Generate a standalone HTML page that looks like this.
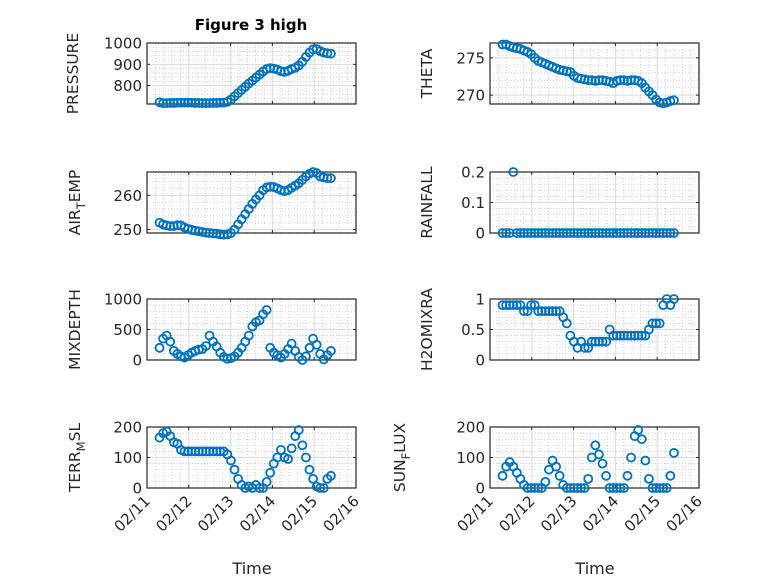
<!DOCTYPE html>
<html><head><meta charset="utf-8"><style>
html,body{margin:0;padding:0;background:#fff;}
svg{display:block;font-family:"DejaVu Sans","Liberation Sans",sans-serif;}
</style></head><body>
<svg id="fig" width="778" height="583" viewBox="0 0 778 583">
<rect width="778" height="583" fill="#fff"/>
<text x="251" y="30" text-anchor="middle" font-size="15" font-weight="bold" fill="#000">Figure 3 high</text>
</svg>
<script>
// x ticks (days since 02/11)
const xTickLabels = ["02/11","02/12","02/13","02/14","02/15","02/16"];
const tStart = 0.3, tEnd = 4.4, nPts = 49;
const pressure = [722,718,718,719,719,720,720,720,720,720,719,719,718,718,718,719,719,720,720,724,735,750,765,780,795,810,824,838,852,866,878,882,880,875,868,865,870,878,884,895,912,935,955,970,972,962,955,952,950];
const theta = [276.8,276.8,276.6,276.4,276.3,276.2,276.0,275.8,275.5,275.0,274.6,274.4,274.2,274.0,273.8,273.6,273.4,273.3,273.2,273.1,272.6,272.3,272.2,272.1,272.0,272.0,271.9,272.0,272.0,271.9,271.8,271.6,271.9,272.0,272.0,271.9,272.0,272.0,271.9,271.6,271.0,270.5,270.0,269.4,269.0,268.9,269.0,269.2,269.3];
const airTemp = [252,251.5,251.2,251,251,251.3,251.2,250.6,250.2,249.9,249.7,249.5,249.3,249.1,249,248.9,248.8,248.6,248.5,248.6,249,250,251.5,253,254.5,256,257.5,258.8,260,261.5,262.3,262.5,262.4,262,261.5,261.2,261.5,262.2,262.8,263.5,264.5,265.5,266.3,266.8,266.5,265.5,265.2,265,265];
const rainfall = [0,0,0,0.2,0,0,0,0,0,0,0,0,0,0,0,0,0,0,0,0,0,0,0,0,0,0,0,0,0,0,0,0,0,0,0,0,0,0,0,0,0,0,0,0,0,0,0,0,0];
const mixDepth = [200,350,400,300,150,100,60,40,80,120,150,170,180,230,400,300,220,120,50,20,30,60,120,200,300,400,550,620,650,750,820,200,120,80,40,100,180,270,150,50,0,60,200,350,250,100,10,80,150];
const h2oMix = [0.9,0.9,0.9,0.9,0.9,0.9,0.8,0.8,0.9,0.9,0.8,0.8,0.8,0.8,0.8,0.8,0.8,0.7,0.6,0.4,0.3,0.2,0.3,0.2,0.2,0.3,0.3,0.3,0.3,0.3,0.5,0.4,0.4,0.4,0.4,0.4,0.4,0.4,0.4,0.4,0.4,0.5,0.6,0.6,0.6,0.9,1.0,0.9,1.0];
const terrMsl = [165,180,185,170,150,145,125,120,120,120,120,120,120,120,120,120,120,120,120,110,90,60,30,10,0,5,0,10,0,0,20,50,80,100,125,100,95,130,170,190,140,100,60,30,5,0,0,30,40];
const sunFlux = [40,70,85,70,50,30,10,0,0,0,0,0,20,60,90,70,40,10,0,0,0,0,0,0,30,100,140,110,80,40,0,0,0,0,0,40,100,170,190,160,90,30,0,0,0,0,0,40,115];

const NS="http://www.w3.org/2000/svg";
const svg=document.getElementById('fig');
function mk(tag,attrs,parent){const e=document.createElementNS(NS,tag);for(const k in attrs)e.setAttribute(k,attrs[k]);(parent||svg).appendChild(e);return e;}

const panels=[
 {name:'pressure',label:['PRESSURE'],vals:pressure,x0:147,y0:43,ymin:714,ymax:1000,ticks:[800,900,1000],fmt:v=>v,lx:78,minor:20},
 {name:'theta',label:['THETA'],vals:theta,x0:490,y0:43,ymin:268.8,ymax:277,ticks:[270,275],fmt:v=>v,lx:432,minor:1},
 {name:'air-temp',label:['AIR','T','EMP'],vals:airTemp,x0:147,y0:172,ymin:249,ymax:266.8,ticks:[250,260],fmt:v=>v,lx:80,minor:2},
 {name:'rainfall',label:['RAINFALL'],vals:rainfall,x0:490,y0:172,ymin:0,ymax:0.2,ticks:[0,0.1,0.2],fmt:v=>v===0?'0':v.toFixed(1),lx:432,minor:0.02},
 {name:'mixdepth',label:['MIXDEPTH'],vals:mixDepth,x0:147,y0:299,ymin:0,ymax:1000,ticks:[0,500,1000],fmt:v=>v,lx:80,minor:100},
 {name:'h2omixra',label:['H2OMIXRA'],vals:h2oMix,x0:490,y0:299,ymin:0,ymax:1,ticks:[0,0.5,1],fmt:v=>v,lx:432,minor:0.1},
 {name:'terr-msl',label:['TERR','M','SL'],vals:terrMsl,x0:147,y0:427,ymin:0,ymax:200,ticks:[0,100,200],fmt:v=>v,lx:80,minor:20,xl:true},
 {name:'sun-flux',label:['SUN','F','LUX'],vals:sunFlux,x0:490,y0:427,ymin:0,ymax:200,ticks:[0,100,200],fmt:v=>v,lx:405,minor:20,xl:true}
];
const W=209,H=61;

panels.forEach(p=>{
 const g=mk('g',{});
 
 
 const xs=d=>p.x0+d/5*W;
 const ys=v=>p.y0+H-(v-p.ymin)/(p.ymax-p.ymin)*H;
 for(let d=0.2;d<5;d+=0.2){const x=xs(d);mk('line',{x1:x,x2:x,y1:p.y0,y2:p.y0+H,stroke:'#bdbdbd','stroke-width':0.7,'stroke-dasharray':'1 2'},g);}
 const s0=Math.ceil(p.ymin/p.minor-1e-9);
 for(let k=s0;k*p.minor<=p.ymax+1e-9;k++){const y=ys(k*p.minor);mk('line',{x1:p.x0,x2:p.x0+W,y1:y,y2:y,stroke:'#bdbdbd','stroke-width':0.7,'stroke-dasharray':'1 2'},g);}
 for(let d=1;d<5;d++){const x=xs(d);mk('line',{x1:x,x2:x,y1:p.y0,y2:p.y0+H,stroke:'#dcdcdc','stroke-width':1},g);}
 p.ticks.forEach(v=>{const y=ys(v);mk('line',{x1:p.x0,x2:p.x0+W,y1:y,y2:y,stroke:'#dcdcdc','stroke-width':1},g);
   const t=mk('text',{x:p.x0-5,y:y+5.5,'text-anchor':'end','font-size':15,fill:'#262626'},g);t.textContent=p.fmt(v);
   
   
   mk('line',{x1:p.x0,x2:p.x0+3,y1:y,y2:y,stroke:'#262626'},g);mk('line',{x1:p.x0+W,x2:p.x0+W-3,y1:y,y2:y,stroke:'#262626'},g);});
 xTickLabels.forEach((lab,i)=>{const x=xs(i);mk('line',{x1:x,x2:x,y1:p.y0+H,y2:p.y0+H-3,stroke:'#262626'},g);mk('line',{x1:x,x2:x,y1:p.y0,y2:p.y0+3,stroke:'#262626'},g);
   if(p.xl){const t=mk('text',{x:x+4,y:p.y0+H+14,'text-anchor':'end','font-size':15,fill:'#262626',transform:`rotate(-45 ${x+4} ${p.y0+H+14})`},g);t.textContent=lab;
   
   }});
 const b=mk('rect',{x:p.x0,y:p.y0,width:W,height:H,fill:'none',stroke:'#262626','stroke-width':1.2},g);
 
 
 p.vals.forEach((v,i)=>{const d=tStart+i*(tEnd-tStart)/(nPts-1);
   const c=mk('circle',{cx:xs(d),cy:ys(v),r:4,fill:'none',stroke:'#0072BD','stroke-width':1.8},g);
   
   });
 const cy=p.y0+H/2;
 const t=mk('text',{x:p.lx,y:cy,'text-anchor':'middle','font-size':15.5,fill:'#262626',transform:`rotate(-90 ${p.lx} ${cy})`},g);
 
 
 if(p.label.length===1){t.textContent=p.label[0];}
 else{const a=mk('tspan',{},t);a.textContent=p.label[0];const s=mk('tspan',{dy:5,'font-size':11.5},t);s.textContent=p.label[1];const c=mk('tspan',{dy:-5},t);c.textContent=p.label[2];}
 if(p.xl){const xt=mk('text',{x:p.x0+W/2+0.5,y:574,'text-anchor':'middle','font-size':16,fill:'#262626'},g);xt.textContent='Time';
  
  }
});
</script>
</body></html>
